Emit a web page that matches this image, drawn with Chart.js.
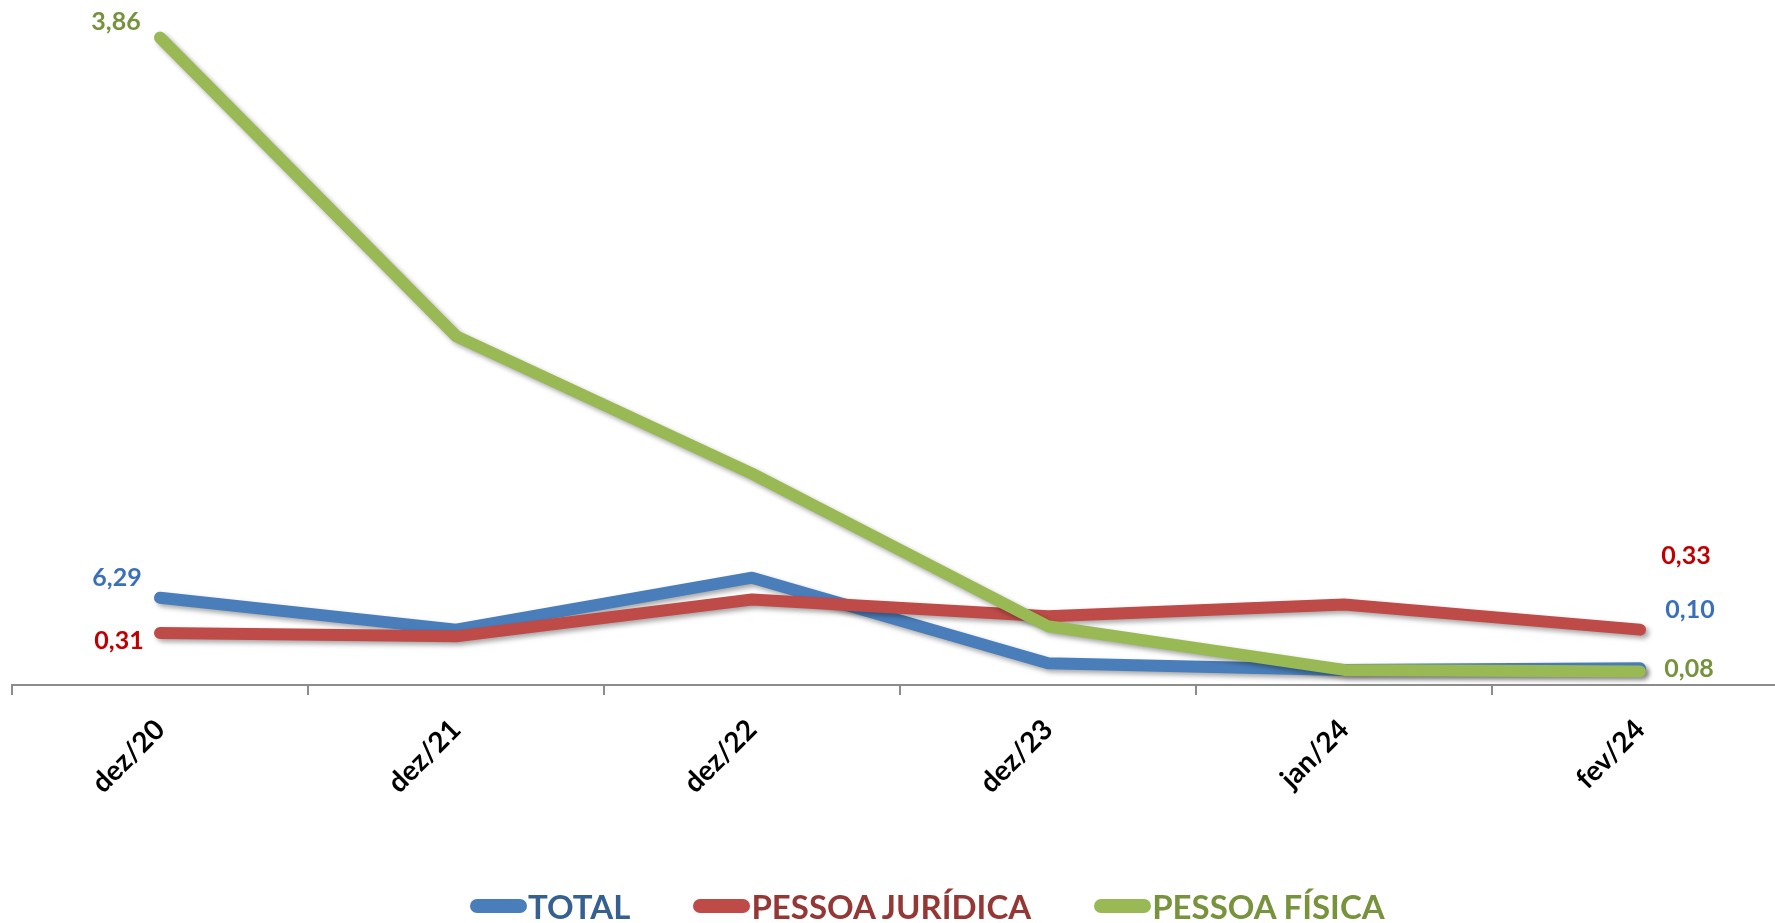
<!DOCTYPE html>
<html>
<head>
<meta charset="utf-8">
<script src="https://cdn.jsdelivr.net/npm/chart.js@4/dist/chart.umd.min.js"></script>
<style>
  html, body { margin: 0; padding: 0; background: #fff; }
  #wrap { position: relative; width: 1775px; height: 923px; overflow: hidden; }
  #chart { position: absolute; left: 0; top: 0; }
  #legend {
    position: absolute; left: 470px; top: 886px;
    display: flex; align-items: center; gap: 63px;
    font-family: Lato, "Open Sans", sans-serif; font-weight: bold; font-size: 33px;
  }
  #legend .item { display: flex; align-items: center; }
  #legend .mark { width: 57px; height: 14px; border-radius: 7px; margin-right: 1px; }
</style>
</head>
<body>
<div id="wrap">
  <canvas id="chart" width="1800" height="923"></canvas>
  <div id="legend"></div>
</div>
<script>
(function () {
  "use strict";

  // --- Data
  var categories = ["dez/20", "dez/21", "dez/22", "dez/23", "jan/24", "fev/24"];
  var totalValues = [0.52, 0.33, 0.64, 0.13, 0.09, 0.10];
  var pjValues = [0.31, 0.29, 0.51, 0.41, 0.48, 0.33];
  var pfValues = [3.86, 2.08, 1.26, 0.35, 0.09, 0.08];

  // labels printed on the chart (as shown, first and last point only)
  var totalLabels = ["6,29", "", "", "", "", "0,10"];
  var pjLabels = ["0,31", "", "", "", "", "0,33"];
  var pfLabels = ["3,86", "", "", "", "", "0,08"];

  var colors = {
    blue: "#4A7EBB",
    red: "#BE4B48",
    green: "#98B954",
    blueText: "#3A70B9",
    redText: "#C00000",
    greenText: "#76923C",
    legendBlue: "#376092",
    legendRed: "#953735",
    legendGreen: "#77933C",
    axis: "#8c8c8c"
  };

  // label offsets from the point, [first, last]
  var labelOffsets = [
    [[-43, -20], [50, -58]],
    [[-41, 8], [46, -74]],
    [[-44, -16], [49, -3]]
  ];
  var labelColors = [colors.blueText, colors.redText, colors.greenText];

  var pointLabels = {
    id: "pointLabels",
    beforeDatasetsDraw: function (chart) {
      var ctx = chart.ctx;
      ctx.save();
      ctx.shadowColor = "rgba(0,0,0,0.35)";
      ctx.shadowBlur = 5;
      ctx.shadowOffsetX = 3;
      ctx.shadowOffsetY = 3;
    },
    afterDatasetsDraw: function (chart) {
      var ctx = chart.ctx;
      ctx.restore();
      ctx.save();
      ctx.font = "bold 25px Lato, 'Open Sans', sans-serif";
      ctx.textAlign = "center";
      ctx.textBaseline = "middle";
      chart.data.datasets.forEach(function (ds, di) {
        var meta = chart.getDatasetMeta(di);
        ds.pointText.forEach(function (txt, i) {
          if (!txt) return;
          var pt = meta.data[i];
          var off = i === 0 ? labelOffsets[di][0] : labelOffsets[di][1];
          ctx.fillStyle = labelColors[di];
          ctx.fillText(txt, pt.x + off[0], pt.y + off[1]);
        });
      });
      ctx.restore();
    }
  };

  function lineSet(label, values, texts, color, order) {
    return {
      label: label,
      data: values,
      pointText: texts,
      borderColor: color,
      backgroundColor: color,
      borderWidth: 12,
      borderCapStyle: "round",
      borderJoinStyle: "round",
      pointRadius: 0,
      tension: 0,
      order: order
    };
  }

  var ctx = document.getElementById("chart");
  new Chart(ctx, {
    type: "line",
    data: {
      labels: categories,
      datasets: [
        lineSet("TOTAL", totalValues, totalLabels, colors.blue, 3),
        lineSet("PESSOA JURÍDICA", pjValues, pjLabels, colors.red, 2),
        lineSet("PESSOA FÍSICA", pfValues, pfLabels, colors.green, 1)
      ]
    },
    options: {
      responsive: false,
      animation: false,
      layout: { padding: { left: 12, right: 12, top: 14, bottom: 0 } },
      plugins: {
        legend: { display: false },
        tooltip: { enabled: false }
      },
      scales: {
        x: {
          offset: true,
          grid: {
            display: true,
            offset: true,
            drawOnChartArea: false,
            drawTicks: true,
            tickLength: 10,
            color: colors.axis,
            lineWidth: 2
          },
          border: { display: true, color: colors.axis, width: 2 },
          ticks: {
            minRotation: 45,
            maxRotation: 45,
            padding: 18,
            color: "#000",
            font: { family: "Lato, 'Open Sans', sans-serif", size: 28, weight: "bold" }
          },
          afterFit: function (scale) { scale.height = 923 - 685; }
        },
        y: {
          display: false,
          min: 0,
          max: 4
        }
      }
    },
    plugins: [pointLabels]
  });

  // --- Legend (line marker + coloured text)
  var legendItems = [
    { name: "TOTAL", mark: colors.blue, text: colors.legendBlue },
    { name: "PESSOA JURÍDICA", mark: colors.red, text: colors.legendRed },
    { name: "PESSOA FÍSICA", mark: colors.green, text: colors.legendGreen }
  ];
  var legendEl = document.getElementById("legend");
  legendItems.forEach(function (it) {
    var item = document.createElement("div");
    item.className = "item";
    var mark = document.createElement("span");
    mark.className = "mark";
    mark.style.background = it.mark;
    var txt = document.createElement("span");
    txt.textContent = it.name;
    txt.style.color = it.text;
    item.appendChild(mark);
    item.appendChild(txt);
    legendEl.appendChild(item);
  });
})();
</script>
</body>
</html>
